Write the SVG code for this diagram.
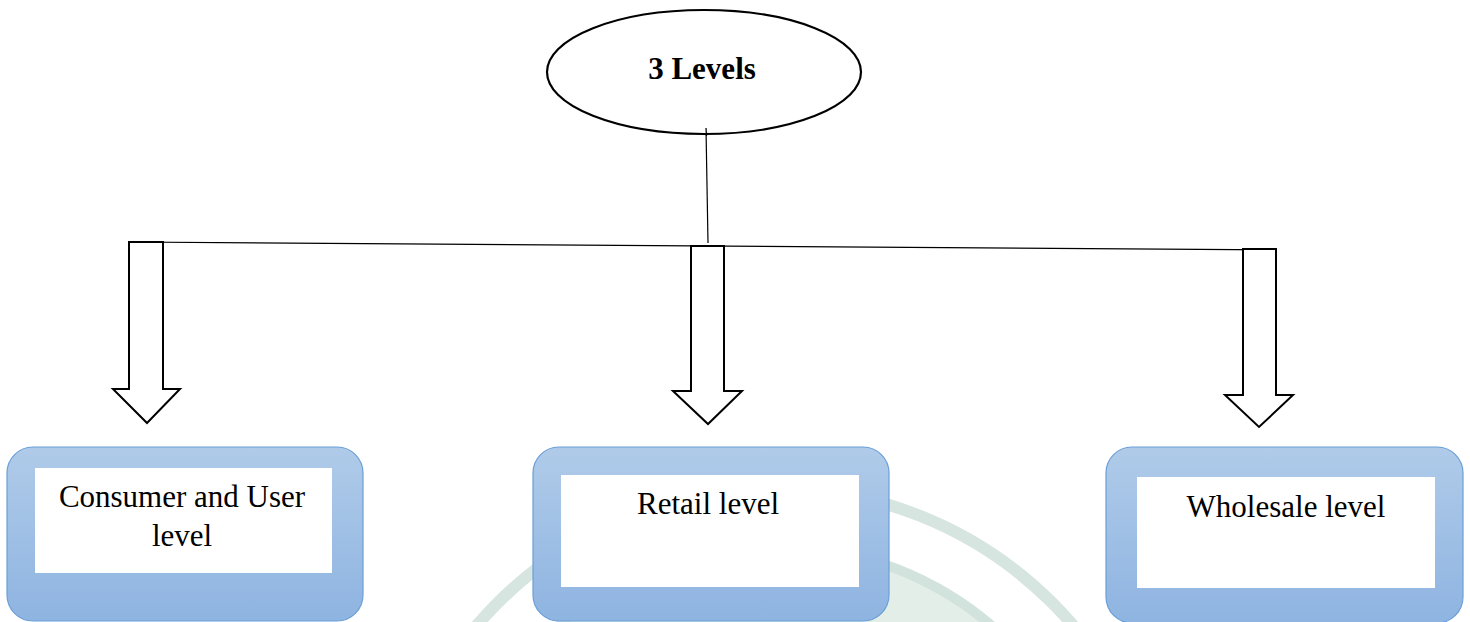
<svg xmlns="http://www.w3.org/2000/svg" width="1470" height="622" viewBox="0 0 1470 622">
  <style>
    .lbl { font-family: "Liberation Serif", "Times New Roman", serif; font-size: 31px; fill: #000; text-anchor: middle; }
    .title { font-weight: bold; }
    .arrow { fill: #fff; stroke: #000; stroke-width: 2; stroke-linejoin: miter; }
    .box { fill: url(#boxGrad); stroke: #6a9fd8; stroke-width: 1.2; }
    .inner { fill: #fff; }
    .conn { stroke: #000; stroke-width: 1.2; fill: none; }
  </style>
  <defs>
    <linearGradient id="boxGrad" x1="0" y1="0" x2="0" y2="1">
      <stop offset="0" stop-color="#b0cbe9"/>
      <stop offset="1" stop-color="#8eb4e1"/>
    </linearGradient>
  </defs>
  <rect width="1470" height="622" fill="#fff"/>

  <g id="watermark">
    <circle cx="775" cy="880" r="392" fill="none" stroke="#d6e5df" stroke-width="12"/>
    <circle cx="775" cy="880" r="334" fill="#e3eee9" stroke="#d2e2dc" stroke-width="10"/>
  </g>

  <g id="connectors">
    <line class="conn" x1="706" y1="128" x2="708" y2="243"/>
    <line class="conn" x1="129" y1="242" x2="1276" y2="250"/>
  </g>

  <g id="root">
    <ellipse cx="704" cy="72" rx="157" ry="62" fill="#fff" stroke="#000" stroke-width="2.2"/>
    <line class="conn" x1="706" y1="128" x2="706.5" y2="136"/>
    <text class="lbl title" x="702" y="79">3 Levels</text>
  </g>

  <g id="arrow-left">
    <path class="arrow" d="M129,242 H163 V389 H180 L147,423 L113,389 H129 Z"/>
  </g>
  <g id="arrow-middle">
    <path class="arrow" d="M691,246 H724 V391 H742 L708,424 L673,391 H691 Z"/>
  </g>
  <g id="arrow-right">
    <path class="arrow" d="M1243,249 H1276 V395 H1293 L1259,427 L1225,395 H1243 Z"/>
  </g>

  <g id="consumer">
    <rect class="box" x="7" y="447" width="356" height="174" rx="26" ry="26"/>
    <rect class="inner" x="35" y="468" width="297" height="105"/>
    <text class="lbl" x="182" y="507">Consumer and User</text>
    <text class="lbl" x="182" y="546">level</text>
  </g>

  <g id="retail">
    <rect class="box" x="533" y="447" width="356" height="174" rx="26" ry="26"/>
    <rect class="inner" x="561" y="475" width="298" height="112"/>
    <text class="lbl" x="708" y="514">Retail level</text>
  </g>

  <g id="wholesale">
    <rect class="box" x="1106" y="447" width="357" height="176" rx="26" ry="26"/>
    <rect class="inner" x="1137" y="477" width="298" height="111"/>
    <text class="lbl" x="1286" y="517">Wholesale level</text>
  </g>
</svg>
